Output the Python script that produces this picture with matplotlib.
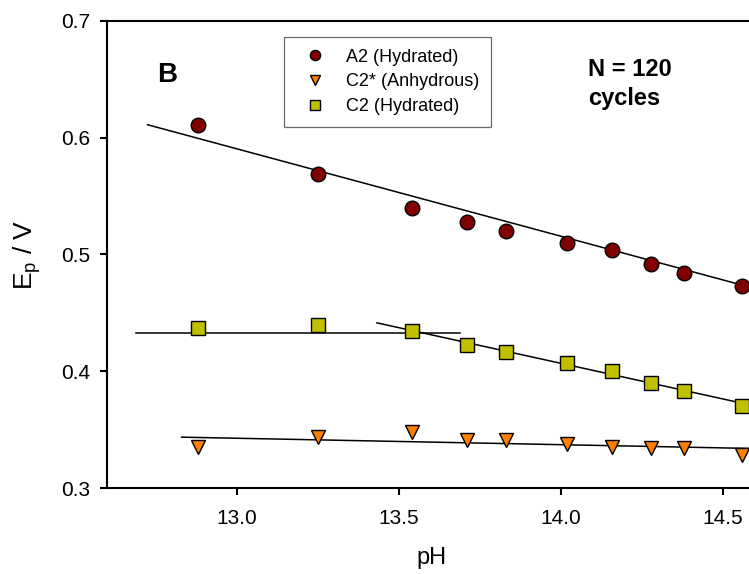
import numpy as np
import matplotlib
matplotlib.use("Agg")
import matplotlib.pyplot as plt
from matplotlib.ticker import FormatStrFormatter

plt.rcParams['font.family'] = ['Liberation Sans', 'DejaVu Sans']
plt.rcParams['mathtext.default'] = 'regular'

# pH сканирования и потенциалы пиков (N = 120 циклов)
ph = [12.88, 13.25, 13.54, 13.71, 13.83, 14.02, 14.16, 14.28, 14.38, 14.56]
ep_a2 = [0.611, 0.569, 0.540, 0.528, 0.520, 0.510, 0.504, 0.492, 0.484, 0.473]
ep_c2_anh = [0.335, 0.344, 0.348, 0.341, 0.341, 0.338, 0.335, 0.334, 0.334, 0.328]
ep_c2 = [0.437, 0.4395, 0.434, 0.422, 0.416, 0.407, 0.400, 0.390, 0.383, 0.370]

labels = ['A2 (Hydrated)', 'C2* (Anhydrous)', 'C2 (Hydrated)']

# Линейные аппроксимации: (наклон, свободный член, pH начала, pH конца)
fit_a2 = (-0.0748, 1.5628, 12.725, 14.6)
fit_c2_anh = (-0.0055, 0.4141, 12.83, 14.6)
fit_c2_flat = (0.0, 0.4327, 12.69, 13.69)
fit_c2_slope = (-0.061, 1.2608, 13.433, 14.6)

fig = plt.figure(figsize=(7.49, 5.74), dpi=100)
ax = fig.add_axes([0.1429, 0.1498, 0.8651, 0.8141])

for slope, icpt, x0, x1 in [fit_a2, fit_c2_anh, fit_c2_flat, fit_c2_slope]:
    xs = np.array([x0, x1])
    ax.plot(xs, slope * xs + icpt, color='black', lw=1.1, zorder=2)

h1, = ax.plot(ph, ep_a2, 'o', ms=10.5, mfc='#800000', mec='black', mew=1.0,
              ls='none', label=labels[0], zorder=3)
h2, = ax.plot(ph, ep_c2_anh, 'v', ms=10.5, mfc='#ff8000', mec='black', mew=1.0,
              ls='none', label=labels[1], zorder=3)
h3, = ax.plot(ph, ep_c2, 's', ms=9.5, mfc='#c0c000', mec='black', mew=1.0,
              ls='none', label=labels[2], zorder=3)

ax.set_xlim(12.6, 14.6)
ax.set_ylim(0.3, 0.7)
ax.set_xticks([13.0, 13.5, 14.0, 14.5])
ax.set_yticks([0.3, 0.4, 0.5, 0.6, 0.7])
ax.xaxis.set_major_formatter(FormatStrFormatter('%.1f'))
ax.yaxis.set_major_formatter(FormatStrFormatter('%.1f'))

for s in ax.spines.values():
    s.set_linewidth(1.5)
ax.tick_params(axis='both', direction='out', length=5, width=1.5,
               labelsize=15, top=False, right=False)
ax.tick_params(axis='x', pad=10)
ax.tick_params(axis='y', pad=7)

ax.set_xlabel('pH', fontsize=17)
ax.set_ylabel(r'E$_{p}$ / V', fontsize=19)
ax.xaxis.set_label_coords(0.5, -0.127)
ax.yaxis.set_label_coords(-0.099, 0.5)

leg = fig.legend(handles=[h1, h2, h3], loc='upper left',
                 bbox_to_anchor=(284 / 749, 1 - 37 / 574),
                 bbox_transform=fig.transFigure, borderaxespad=0,
                 fontsize=13, markerscale=0.7, fancybox=False,
                 handlelength=2.1, handletextpad=0.7, borderpad=0.65,
                 labelspacing=0.42, numpoints=1)
leg.get_frame().set_edgecolor('#444444')
leg.get_frame().set_linewidth(0.9)

fig.text(157 / 749, 1 - 82 / 574, 'B', fontsize=20, fontweight='bold',
         ha='left', va='baseline')
fig.text(588 / 749, 1 - 76 / 574, 'N = 120', fontsize=17, fontweight='bold',
         ha='left', va='baseline')
fig.text(588 / 749, 1 - 105 / 574, 'cycles', fontsize=17, fontweight='bold',
         ha='left', va='baseline')

fig.savefig('out.png', dpi=100)
